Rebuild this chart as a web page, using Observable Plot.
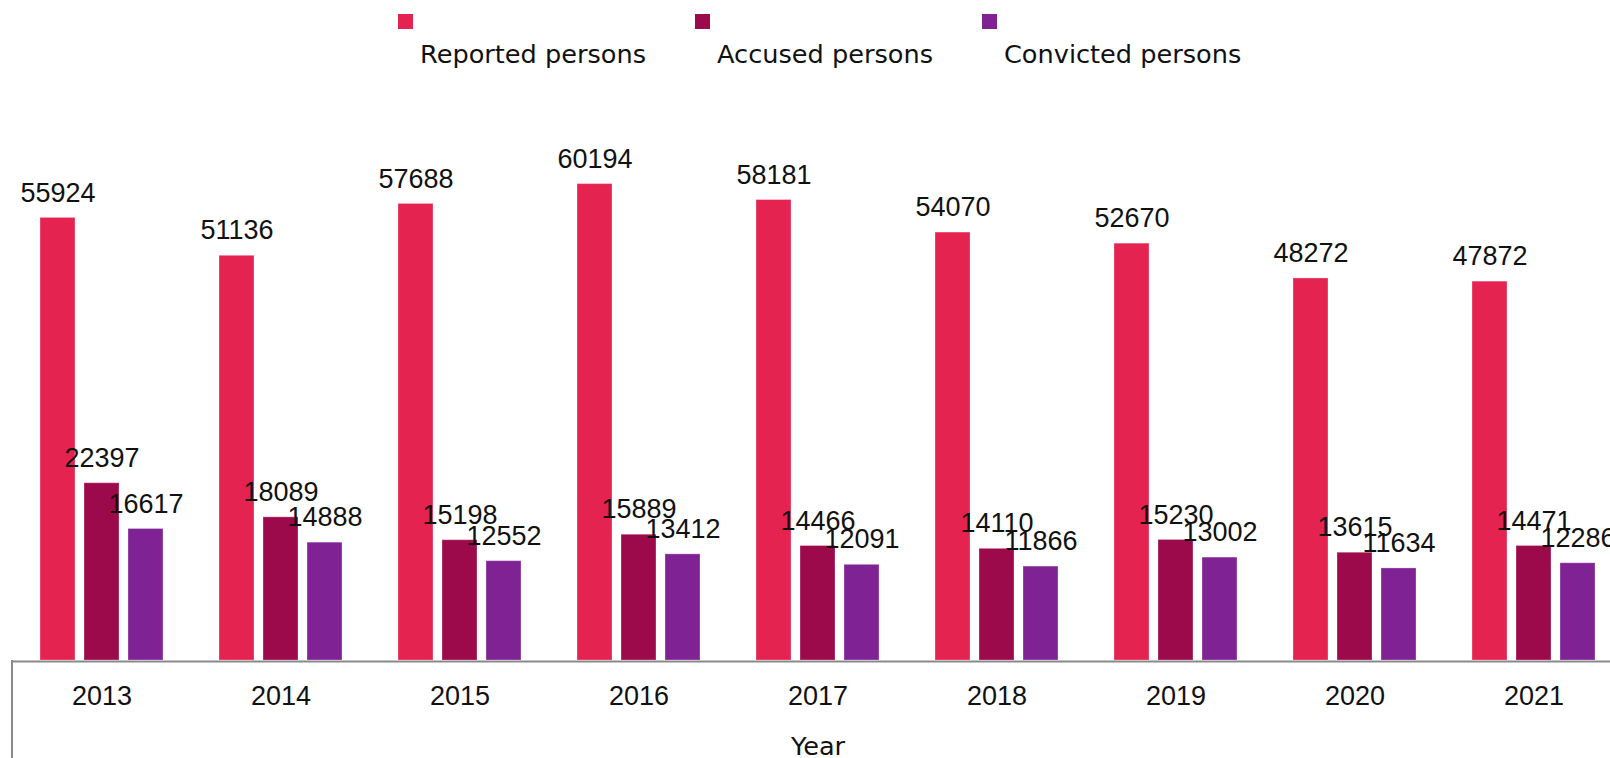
<!DOCTYPE html>
<html><head><meta charset="utf-8">
<script src="https://cdn.jsdelivr.net/npm/d3@7"></script>
<script src="https://cdn.jsdelivr.net/npm/@observablehq/plot@0.6"></script>
<style>
html,body{margin:0;padding:0;background:#fff;overflow:hidden;width:1610px;height:758px}
#legend{position:relative;height:90px;font-family:"DejaVu Sans";font-size:25.6px;color:#111}
#legend .row{position:absolute;left:398px;top:0;display:flex;gap:49px}
#legend .item{position:relative;padding-left:22px;height:90px}
#legend .sw{position:absolute;left:0;top:14px;width:15px;height:15px}
#legend .lab{margin-top:40px;white-space:nowrap;line-height:29px}
</style></head><body>
<div id="legend"><div class="row"></div></div>
<div id="chart"></div>
<script>
const years = ["2013","2014","2015","2016","2017","2018","2019","2020","2021"];
const seriesNames = ["Reported persons","Accused persons","Convicted persons"];
const reported = [55924,51136,57688,60194,58181,54070,52670,48272,47872];
const accused = [22397,18089,15198,15889,14466,14110,15230,13615,14471];
const convicted = [16617,14888,12552,13412,12091,11866,13002,11634,12286];
const colors = ["#e42350","#9d0a4b","#7f2394"];
const axisTitle = "Year";

const seriesValues = [reported, accused, convicted];
const rows = years.flatMap((yr, i) => seriesNames.map((s, k) => ({year: yr, series: s, value: seriesValues[k][i]})));

// legend
const row = document.querySelector("#legend .row");
seriesNames.forEach((s, k) => {
  const it = document.createElement("div"); it.className = "item";
  const sw = document.createElement("div"); sw.className = "sw"; sw.style.background = colors[k];
  const lab = document.createElement("div"); lab.className = "lab"; lab.textContent = s;
  it.appendChild(sw); it.appendChild(lab); row.appendChild(it);
});

const chart = Plot.plot({
  width: 1623,
  height: 668,
  marginTop: 16,
  marginBottom: 98,
  marginLeft: 11,
  marginRight: 0,
  facet: {marginTop: 0, marginRight: 0, marginBottom: 0, marginLeft: 0},
  style: {fontFamily: "Liberation Sans", fontSize: "27px", color: "#111", background: "white", maxWidth: "none", overflow: "visible"},
  fx: {domain: years, padding: 0, label: null},
  x: {domain: seriesNames, paddingInner: 0.2, paddingOuter: 0, insetLeft: 27, insetRight: 27, axis: null},
  y: {domain: [0, 70000], axis: null},
  color: {domain: seriesNames, range: colors},
  marks: [
    Plot.barY(rows, {fx: "year", x: "series", y: "value", fill: "series", stroke: "white", strokeOpacity: 0.3, strokeWidth: 1}),
    Plot.ruleY([0], {stroke: "#898989", strokeWidth: 2, dy: 1}),
    Plot.text(rows, {fx: "year", x: "series", y: "value", text: d => String(d.value), dy: -25, lineAnchor: "middle", fill: "#111", fontSize: 27}),
    Plot.axisFx({anchor: "bottom", tickSize: 0, tickPadding: 25, label: null, fontSize: 27, fill: "#111"}),
    Plot.text([axisTitle], {facet: "super", frameAnchor: "bottom", text: d => d, dy: 86, lineAnchor: "middle", fontFamily: "DejaVu Sans", fontSize: 25.6, fill: "#111"})
  ]
});
document.getElementById("chart").appendChild(chart);

// left boundary line of the category axis, placed from the library's scales
const fxs = chart.scale("fx"), ys = chart.scale("y");
d3.select(chart).append("line")
  .attr("x1", fxs.range[0] + 1).attr("x2", fxs.range[0] + 1)
  .attr("y1", ys.apply(0)).attr("y2", 668)
  .attr("stroke", "#898989").attr("stroke-width", 2);
</script>
</body></html>
